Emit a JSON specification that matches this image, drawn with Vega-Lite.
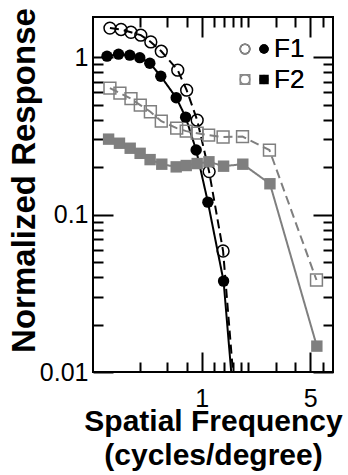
{
  "$schema": "https://vega.github.io/schema/vega-lite/v6.json",
  "width": 240,
  "height": 355,
  "autosize": "none",
  "padding": {"left": 93, "top": 17, "right": 15, "bottom": 103},
  "config": {
    "view": {"stroke": "black", "strokeWidth": 2}
  },
  "data": {
    "values": [
      {"freq": 0.257, "resp": 1.53, "neuron": "F1", "stim": "open", "pt": true},
      {"freq": 0.303, "resp": 1.50, "neuron": "F1", "stim": "open", "pt": true},
      {"freq": 0.351, "resp": 1.44, "neuron": "F1", "stim": "open", "pt": true},
      {"freq": 0.406, "resp": 1.38, "neuron": "F1", "stim": "open", "pt": true},
      {"freq": 0.471, "resp": 1.25, "neuron": "F1", "stim": "open", "pt": true},
      {"freq": 0.550, "resp": 1.09, "neuron": "F1", "stim": "open", "pt": true},
      {"freq": 0.702, "resp": 0.827, "neuron": "F1", "stim": "open", "pt": true},
      {"freq": 0.801, "resp": 0.617, "neuron": "F1", "stim": "open", "pt": true},
      {"freq": 0.936, "resp": 0.398, "neuron": "F1", "stim": "open", "pt": true},
      {"freq": 1.117, "resp": 0.1875, "neuron": "F1", "stim": "open", "pt": true},
      {"freq": 1.374, "resp": 0.0587, "neuron": "F1", "stim": "open", "pt": true},
      {"freq": 1.59, "resp": 0.01, "neuron": "F1", "stim": "open", "pt": false},
      {"freq": 0.246, "resp": 1.015, "neuron": "F1", "stim": "filled", "pt": true},
      {"freq": 0.292, "resp": 1.045, "neuron": "F1", "stim": "filled", "pt": true},
      {"freq": 0.345, "resp": 1.03, "neuron": "F1", "stim": "filled", "pt": true},
      {"freq": 0.400, "resp": 0.993, "neuron": "F1", "stim": "filled", "pt": true},
      {"freq": 0.464, "resp": 0.916, "neuron": "F1", "stim": "filled", "pt": true},
      {"freq": 0.546, "resp": 0.757, "neuron": "F1", "stim": "filled", "pt": true},
      {"freq": 0.686, "resp": 0.553, "neuron": "F1", "stim": "filled", "pt": true},
      {"freq": 0.789, "resp": 0.416, "neuron": "F1", "stim": "filled", "pt": true},
      {"freq": 0.922, "resp": 0.257, "neuron": "F1", "stim": "filled", "pt": true},
      {"freq": 1.097, "resp": 0.120, "neuron": "F1", "stim": "filled", "pt": true},
      {"freq": 1.384, "resp": 0.0378, "neuron": "F1", "stim": "filled", "pt": true},
      {"freq": 1.55, "resp": 0.01, "neuron": "F1", "stim": "filled", "pt": false},
      {"freq": 0.257, "resp": 0.636, "neuron": "F2", "stim": "open", "pt": true},
      {"freq": 0.298, "resp": 0.591, "neuron": "F2", "stim": "open", "pt": true},
      {"freq": 0.351, "resp": 0.545, "neuron": "F2", "stim": "open", "pt": true},
      {"freq": 0.403, "resp": 0.496, "neuron": "F2", "stim": "open", "pt": true},
      {"freq": 0.468, "resp": 0.450, "neuron": "F2", "stim": "open", "pt": true},
      {"freq": 0.550, "resp": 0.392, "neuron": "F2", "stim": "open", "pt": true},
      {"freq": 0.691, "resp": 0.354, "neuron": "F2", "stim": "open", "pt": true},
      {"freq": 0.796, "resp": 0.339, "neuron": "F2", "stim": "open", "pt": true},
      {"freq": 0.936, "resp": 0.329, "neuron": "F2", "stim": "open", "pt": true},
      {"freq": 1.109, "resp": 0.320, "neuron": "F2", "stim": "open", "pt": true},
      {"freq": 1.374, "resp": 0.311, "neuron": "F2", "stim": "open", "pt": true},
      {"freq": 1.832, "resp": 0.313, "neuron": "F2", "stim": "open", "pt": true},
      {"freq": 2.73, "resp": 0.257, "neuron": "F2", "stim": "open", "pt": true},
      {"freq": 5.48, "resp": 0.0384, "neuron": "F2", "stim": "open", "pt": true},
      {"freq": 0.252, "resp": 0.3015, "neuron": "F2", "stim": "filled", "pt": true},
      {"freq": 0.296, "resp": 0.284, "neuron": "F2", "stim": "filled", "pt": true},
      {"freq": 0.347, "resp": 0.264, "neuron": "F2", "stim": "filled", "pt": true},
      {"freq": 0.402, "resp": 0.245, "neuron": "F2", "stim": "filled", "pt": true},
      {"freq": 0.466, "resp": 0.2235, "neuron": "F2", "stim": "filled", "pt": true},
      {"freq": 0.554, "resp": 0.209, "neuron": "F2", "stim": "filled", "pt": true},
      {"freq": 0.686, "resp": 0.201, "neuron": "F2", "stim": "filled", "pt": true},
      {"freq": 0.796, "resp": 0.205, "neuron": "F2", "stim": "filled", "pt": true},
      {"freq": 0.936, "resp": 0.211, "neuron": "F2", "stim": "filled", "pt": true},
      {"freq": 1.114, "resp": 0.2165, "neuron": "F2", "stim": "filled", "pt": true},
      {"freq": 1.384, "resp": 0.203, "neuron": "F2", "stim": "filled", "pt": true},
      {"freq": 1.84, "resp": 0.209, "neuron": "F2", "stim": "filled", "pt": true},
      {"freq": 2.75, "resp": 0.157, "neuron": "F2", "stim": "filled", "pt": true},
      {"freq": 5.51, "resp": 0.0146, "neuron": "F2", "stim": "filled", "pt": true}
    ]
  },
  "layer": [
    {
      "mark": {"type": "line", "strokeWidth": 2},
      "encoding": {
        "x": {
          "field": "freq", "type": "quantitative",
          "scale": {"type": "log", "domain": [0.2, 7], "nice": false},
          "axis": {
            "orient": "bottom", "ticks": false, "domain": false,
            "grid": true, "gridColor": "black", "gridOpacity": 1, "gridWidth": 2, "gridDash": [20, 315, 20, 1000],
            "values": [1, 5],
            "labelExpr": "datum.value == 1 ? '1' : '5'",
            "labelFont": "Liberation Sans", "labelColor": "black", "labelFontSize": 25, "labelPadding": 14, "labelFlush": false,
            "title": ["Spatial Frequency", "(cycles/degree)"],
            "titleFont": "Liberation Sans", "titleColor": "black",
            "titleFontSize": 30, "titleFontWeight": "bold", "titleLineHeight": 34,
            "titleBaseline": "alphabetic", "titleY": 58
          }
        },
        "y": {
          "field": "resp", "type": "quantitative",
          "scale": {"type": "log", "domain": [0.01, 1.8], "nice": false},
          "axis": {
            "orient": "left", "ticks": false, "domain": false,
            "grid": true, "gridColor": "black", "gridOpacity": 1, "gridWidth": 2, "gridDash": [20, 200, 20, 1000],
            "values": [0.01, 0.1, 1],
            "labelExpr": "datum.value == 0.01 ? '0.01' : datum.value == 0.1 ? '0.1' : '1'",
            "labelFont": "Liberation Sans", "labelColor": "black", "labelFontSize": 25, "labelPadding": 5, "labelFlush": false,
            "title": "Normalized Response",
            "titleFont": "Liberation Sans", "titleColor": "black",
            "titleFontSize": 33, "titleFontWeight": "bold",
            "titleBaseline": "alphabetic", "titleX": -59, "titleY": 163
          }
        },
        "color": {"field": "neuron", "type": "nominal", "scale": {"domain": ["F1", "F2"], "range": ["black", "#7f7f7f"]}, "legend": null},
        "strokeDash": {"field": "stim", "type": "nominal", "scale": {"domain": ["filled", "open"], "range": [[1, 0], [9, 5]]}, "legend": null}
      }
    },
    {
      "transform": [{"filter": "datum.pt && datum.stim == 'open'"}],
      "mark": {"type": "point", "filled": false, "strokeWidth": 1.5, "size": 140, "opacity": 1},
      "encoding": {
        "x": {
          "field": "freq", "type": "quantitative",
          "axis": {"orient": "top", "ticks": false, "domain": false, "labels": false, "title": null,
            "grid": true, "gridColor": "black", "gridOpacity": 1, "gridWidth": 2, "gridDash": [10, 335, 10, 1000],
            "values": [0.4, 0.6, 0.8, 1.2, 1.4, 1.6, 1.8, 2, 3, 4, 6]}
        },
        "y": {
          "field": "resp", "type": "quantitative",
          "axis": {"orient": "right", "ticks": false, "domain": false, "labels": false, "title": null,
            "grid": true, "gridColor": "black", "gridOpacity": 1, "gridWidth": 2, "gridDash": [10, 220, 10, 1000],
            "values": [0.02, 0.03, 0.04, 0.05, 0.06, 0.07, 0.08, 0.09, 0.2, 0.3, 0.4, 0.5, 0.6, 0.7, 0.8, 0.9]}
        },
        "shape": {"field": "neuron", "type": "nominal", "scale": {"range": ["circle", "square"]},
          "legend": {"orient": "none", "legendX": 139, "legendY": 19, "title": null, "labelOpacity": 0, "symbolSize": 90, "symbolStrokeWidth": 1.5, "symbolOpacity": 1, "labelFont": "Liberation Sans", "labelFontSize": 26, "rowPadding": 4.5}},
        "stroke": {"field": "neuron", "type": "nominal", "scale": {"range": ["black", "#7f7f7f"]},
          "legend": {"orient": "none", "legendX": 139, "legendY": 19, "title": null, "labelOpacity": 0, "symbolSize": 90, "symbolStrokeWidth": 1.5, "symbolOpacity": 1, "labelFont": "Liberation Sans", "labelFontSize": 26, "rowPadding": 4.5}}
      }
    },
    {
      "transform": [{"filter": "datum.pt && datum.stim == 'filled'"}],
      "mark": {"type": "point", "filled": true, "strokeWidth": 0, "size": 130, "opacity": 1},
      "encoding": {
        "x": {"field": "freq", "type": "quantitative", "axis": null},
        "y": {"field": "resp", "type": "quantitative", "axis": null},
        "shape": {"field": "neuron", "type": "nominal", "scale": {"range": ["circle", "square"]},
          "legend": {"orient": "none", "legendX": 158, "legendY": 19, "title": null, "symbolSize": 90, "symbolOpacity": 1, "labelFont": "Liberation Sans", "labelColor": "black", "labelFontSize": 26, "labelOffset": -3, "rowPadding": 4.5}},
        "fill": {"field": "neuron", "type": "nominal", "scale": {"range": ["black", "#7f7f7f"]},
          "legend": {"orient": "none", "legendX": 158, "legendY": 19, "title": null, "symbolSize": 90, "symbolOpacity": 1, "labelFont": "Liberation Sans", "labelColor": "black", "labelFontSize": 26, "labelOffset": -3, "rowPadding": 4.5}}
      }
    }
  ],
  "resolve": {
    "axis": {"x": "independent", "y": "independent"},
    "scale": {"shape": "independent"}
  }
}
